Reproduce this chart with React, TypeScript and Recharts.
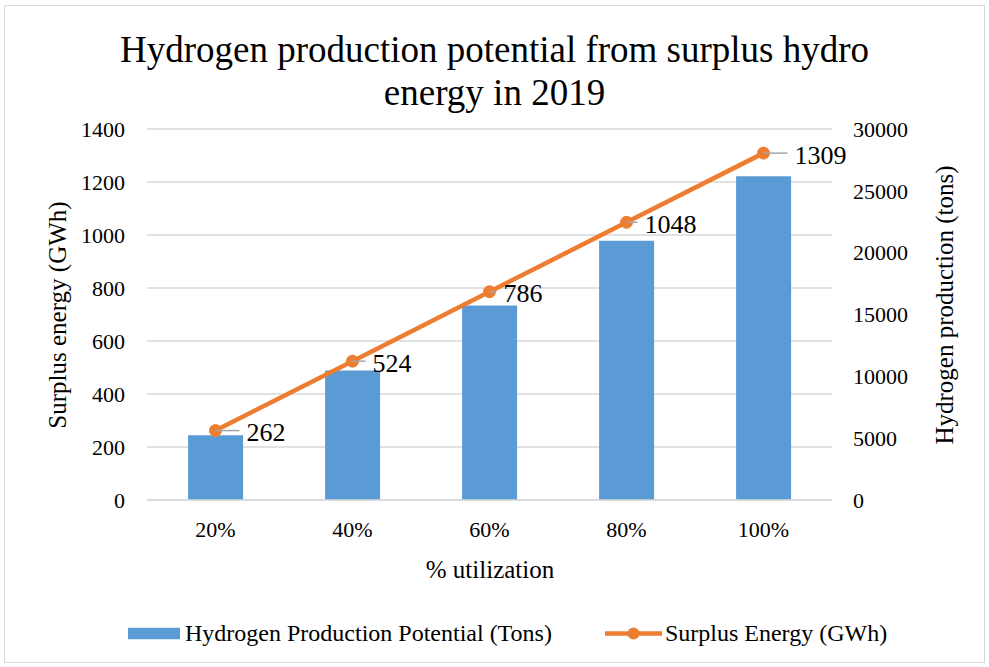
import React from "react";
import { ComposedChart, Bar, Line, XAxis, YAxis, CartesianGrid, LabelList } from "recharts";

const categories = ["20%", "40%", "60%", "80%", "100%"];
const hydrogenTons = [5240, 10480, 15720, 20960, 26180];
const surplusGWh = [262, 524, 786, 1048, 1309];
const leftTicks = [0, 200, 400, 600, 800, 1000, 1200, 1400];
const rightTicks = [0, 5000, 10000, 15000, 20000, 25000, 30000];

const data = categories.map((c, i) => ({
  cat: c,
  hydrogen: hydrogenTons[i],
  surplus: surplusGWh[i],
}));

const FONT = '"Liberation Serif", "Times New Roman", serif';
const BLUE = "#5B9BD5";
const ORANGE = "#ED7D31";
const labelDx = [31, 20, 14, 18, 31];

const PointLabel = (props: any) => {
  const { x, y, value, index } = props;
  const dx = labelDx[index] ?? 20;
  return (
    <g>
      <line x1={x} y1={y} x2={x + dx - 7} y2={y} stroke="#a6a6a6" strokeWidth={1.5} />
      <text
        x={x + dx}
        y={y + 2}
        fontSize={26}
        fontFamily={FONT}
        fill="#000"
        dominantBaseline="central"
        textAnchor="start"
      >
        {value}
      </text>
    </g>
  );
};

export default function App() {
  return (
    <div style={{ position: "absolute", left: 0, top: 0, width: 989, height: 667, background: "#fff", fontFamily: FONT }}>
      <div
        style={{
          position: "absolute",
          left: 4,
          top: 5,
          width: 979,
          height: 656,
          border: "1px solid #d9d9d9",
        }}
      />
      <div
        style={{
          position: "absolute",
          left: 0,
          top: 28,
          width: 989,
          textAlign: "center",
          fontSize: 37,
          lineHeight: "43px",
          color: "#000",
        }}
      >
        Hydrogen production potential from surplus hydro
        <br />
        energy in 2019
      </div>
      <ComposedChart
        width={989}
        height={667}
        data={data}
        margin={{ top: 129, right: 0, bottom: 137, left: 0 }}
        barCategoryGap="30%"
        style={{ position: "absolute", left: 0, top: 0 }}
      >
        <CartesianGrid yAxisId="left" vertical={false} stroke="#d9d9d9" strokeWidth={1.5} />
        <XAxis
          dataKey="cat"
          height={30}
          tickLine={false}
          axisLine={{ stroke: "#d9d9d9", strokeWidth: 1.5 }}
          tickMargin={15}
          tick={{ fontSize: 22, fontFamily: FONT, fill: "#000" }}
        />
        <YAxis
          yAxisId="left"
          orientation="left"
          width={147}
          domain={[0, 1400]}
          ticks={leftTicks}
          tickLine={false}
          axisLine={false}
          tickMargin={16}
          tick={{ fontSize: 22, fontFamily: FONT, fill: "#000" }}
        />
        <YAxis
          yAxisId="right"
          orientation="right"
          width={157}
          domain={[0, 30000]}
          ticks={rightTicks}
          tickLine={false}
          axisLine={false}
          tickMargin={15}
          tick={{ fontSize: 22, fontFamily: FONT, fill: "#000", textAnchor: "start" }}
        />
        <Bar yAxisId="right" dataKey="hydrogen" fill={BLUE} isAnimationActive={false} />
        <Line
          yAxisId="left"
          dataKey="surplus"
          stroke={ORANGE}
          strokeWidth={4.5}
          dot={{ r: 6, fill: ORANGE, stroke: ORANGE, strokeWidth: 1 }}
          isAnimationActive={false}
        >
          <LabelList dataKey="surplus" content={<PointLabel />} />
        </Line>
      </ComposedChart>
      <div
        style={{
          position: "absolute",
          left: 58,
          top: 315,
          transform: "translate(-50%, -50%) rotate(-90deg)",
          whiteSpace: "nowrap",
          fontSize: 25,
          color: "#000",
        }}
      >
        Surplus energy (GWh)
      </div>
      <div
        style={{
          position: "absolute",
          left: 945,
          top: 305,
          transform: "translate(-50%, -50%) rotate(-90deg)",
          whiteSpace: "nowrap",
          fontSize: 25,
          color: "#000",
        }}
      >
        Hydrogen production (tons)
      </div>
      <div
        style={{
          position: "absolute",
          left: 490,
          top: 570,
          transform: "translate(-50%, -50%)",
          whiteSpace: "nowrap",
          fontSize: 25,
          color: "#000",
        }}
      >
        % utilization
      </div>
      <div
        style={{
          position: "absolute",
          left: 128,
          top: 633,
          transform: "translateY(-50%)",
          display: "flex",
          alignItems: "center",
          whiteSpace: "nowrap",
          fontSize: 24,
          color: "#000",
        }}
      >
        <svg width={52} height={12} style={{ marginRight: 5 }}>
          <rect x={0} y={0} width={52} height={12} fill={BLUE} />
        </svg>
        <span>Hydrogen Production Potential (Tons)</span>
        <svg width={57} height={14} style={{ marginLeft: 53, marginRight: 3 }}>
          <line x1={0} y1={7} x2={57} y2={7} stroke={ORANGE} strokeWidth={4.5} />
          <circle cx={28.5} cy={7} r={6} fill={ORANGE} />
        </svg>
        <span>Surplus Energy (GWh)</span>
      </div>
    </div>
  );
}
